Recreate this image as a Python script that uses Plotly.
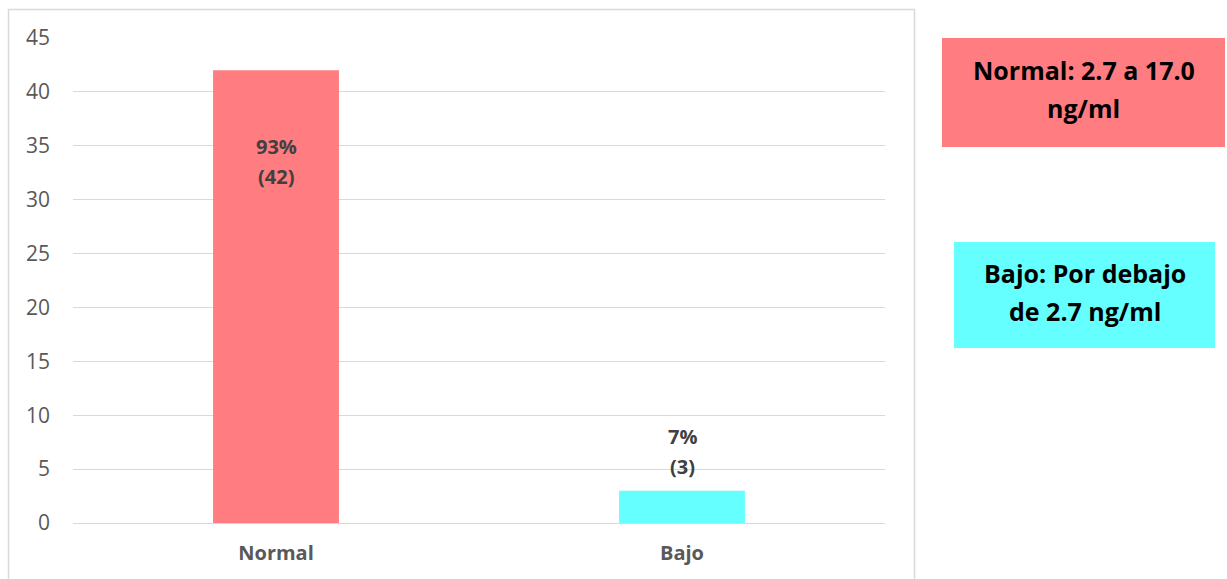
import plotly.graph_objects as go

categories = ["Normal", "Bajo"]
counts = [42, 3]
percents = ["93%", "7%"]
bar_colors = ["#FF7C80", "#66FFFF"]
label_y = [33.5, 6.6]
legend_lines = [["Normal: 2.7 a 17.0", "ng/ml"], ["Bajo: Por debajo", "de 2.7 ng/ml"]]
y_ticks = [0, 5, 10, 15, 20, 25, 30, 35, 40, 45]

W, H = 1227, 579
L, R, T, B = 73, 342, 38, 56
pw = W - L - R
ph = H - T - B

def px(x):
    return (x - L) / pw

def py(y):
    return (H - B - y) / ph

FONT = "Open Sans"

fig = go.Figure()
fig.add_trace(go.Bar(
    x=categories, y=counts, marker=dict(color=bar_colors, line=dict(width=0)),
    width=0.31, hoverinfo="skip", showlegend=False,
))

for c, n, p, ly in zip(categories, counts, percents, label_y):
    for txt, shift in ((p, 15), (f"({n})", -15)):
        fig.add_annotation(
            x=c, y=ly, xref="x", yref="y", text=f"<b>{txt}</b>", yshift=shift,
            xanchor="center", yanchor="middle",
            showarrow=False, font=dict(family=FONT, size=20, color="#404040"),
        )

# outer chart border
fig.add_shape(type="rect", xref="paper", yref="paper",
              x0=px(8.5), x1=px(914.5), y0=py(600), y1=py(9.5),
              line=dict(color="#D9D9D9", width=1.5), fillcolor="rgba(0,0,0,0)", layer="below")

boxes = [(942, 1225, 38, 147, 89), (954, 1215, 242, 348, 291.5)]
for (x0, x1, y0, y1, tc), lines, col in zip(boxes, legend_lines, bar_colors):
    fig.add_shape(type="rect", xref="paper", yref="paper",
                  x0=px(x0), x1=px(x1), y0=py(y1), y1=py(y0),
                  line=dict(width=0), fillcolor=col)
    for txt, shift in ((lines[0], 19), (lines[1], -19)):
        fig.add_annotation(x=px((x0 + x1) / 2), y=py(tc), xref="paper", yref="paper",
                           xanchor="center", yanchor="middle", yshift=shift,
                           text=f"<b>{txt}</b>", showarrow=False, align="center",
                           font=dict(family=FONT, size=25, color="#000000"))

fig.update_layout(
    width=W, height=H,
    margin=dict(l=L, r=R, t=T, b=B, pad=0),
    paper_bgcolor="white", plot_bgcolor="white",
    font=dict(family=FONT, color="#595959", size=20),
    bargap=0.69,
)
fig.update_xaxes(
    showgrid=False, showline=False, zeroline=False, ticks="",
    tickfont=dict(family=FONT, size=20, color="#595959", weight="bold"),
    ticklabelstandoff=16,
)
fig.update_yaxes(
    range=[0, 45], tickvals=y_ticks, showgrid=True, gridcolor="#D9D9D9", gridwidth=1,
    zeroline=True, zerolinecolor="#D9D9D9", zerolinewidth=1, showline=False, ticks="",
    tickfont=dict(family=FONT, size=21, color="#595959"),
    ticklabelstandoff=22,
)

fig.write_html("out.html")
